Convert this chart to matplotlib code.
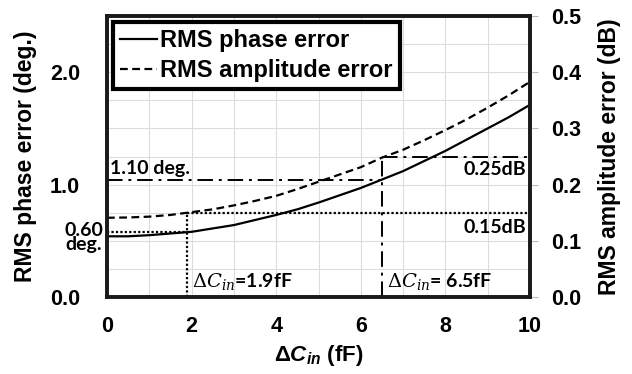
import numpy as np
import matplotlib
matplotlib.use("Agg")
import matplotlib.pyplot as plt
from matplotlib.lines import Line2D

# custom mathtext = bold Arial-like, used for the x label
plt.rcParams['mathtext.fontset'] = 'custom'
plt.rcParams['mathtext.rm'] = 'Liberation Sans:bold'
plt.rcParams['mathtext.it'] = 'Liberation Sans:bold:italic'
plt.rcParams['mathtext.bf'] = 'Liberation Sans:bold'

# data
dc = [0, 0.5, 1, 1.5, 2, 2.5, 3, 3.5, 4, 4.5, 5, 5.5, 6, 6.5, 7, 7.5, 8, 8.5, 9, 9.5, 10]
phase_deg = [0.54, 0.54, 0.55, 0.565, 0.58, 0.61, 0.64, 0.685, 0.73, 0.78, 0.84,
             0.905, 0.97, 1.045, 1.12, 1.21, 1.30, 1.40, 1.50, 1.60, 1.71]
amp_db = [0.141, 0.1415, 0.143, 0.146, 0.151, 0.156, 0.163, 0.171, 0.180, 0.192, 0.205,
          0.218, 0.231, 0.248, 0.262, 0.279, 0.297, 0.316, 0.337, 0.359, 0.383]

# marker points (where the guide lines sit)
dc_marks = [1.9, 6.5]
deg_marks = [0.58, 1.04]
db_marks = [0.15, 0.25]

fig = plt.figure(figsize=(6.32, 3.74), dpi=100)
ax = fig.add_axes([107/632, 77/374, 423/632, 281/374])
ax2 = ax.twinx()

bold = dict(family='Liberation Sans', weight='bold')
note = dict(family='Lato', weight='bold', fontsize=14)

ax.set_xlim(0, 10)
ax.set_ylim(0, 2.5)
ax2.set_ylim(0, 0.5)

# grid
for x in np.arange(1, 10):
    ax.axvline(x, color='#dcdcdc', lw=0.8, zorder=0)
for y in np.arange(0.25, 2.5, 0.25):
    ax.axhline(y, color='#dcdcdc', lw=0.8, zorder=0)

# curves
ax.plot(dc, phase_deg, color='black', lw=1.6)
ax2.plot(dc, amp_db, color='black', lw=1.6, ls=(0, (3.5, 2)))

# guide lines
dot = dict(color='black', lw=1.6, ls=(0, (1, 1)))
dd = dict(color='black', lw=1.4, ls=(0, (8, 3, 1.5, 3)))
ax.plot([0, dc_marks[0]], [deg_marks[0], deg_marks[0]], **dot)
ax2.plot([dc_marks[0], dc_marks[0]], [0, db_marks[0]], **dot)
ax2.plot([dc_marks[0], 10], [db_marks[0], db_marks[0]], **dot)
ax.plot([0, dc_marks[1]], [deg_marks[1], deg_marks[1]], **dd)
ax2.plot([dc_marks[1], dc_marks[1]], [0, db_marks[1]], **dd)
ax2.plot([dc_marks[1], 10], [db_marks[1], db_marks[1]], **dd)

# annotations
ax.text(0.07, 1.07, '1.10 deg.', ha='left', va='bottom', **note)
ax.text(-0.55, 0.53, '0.60\ndeg.', ha='center', va='center', linespacing=0.75,
        clip_on=False, **note)
ax2.text(9.9, 0.226, '0.25dB', ha='right', va='center', **note)
ax2.text(9.9, 0.123, '0.15dB', ha='right', va='center', **note)
ax.text(2.0, 0.134, r'$\Delta C_{in}$=1.9fF', ha='left', va='center',
        math_fontfamily='dejavuserif', **note)
ax.text(6.62, 0.134, r'$\Delta C_{in}$= 6.5fF', ha='left', va='center',
        math_fontfamily='dejavuserif', **note)

# ticks
ax.set_xticks([0, 2, 4, 6, 8, 10])
ax.set_yticks([0.0, 1.0, 2.0])
ax.set_yticklabels(['0.0', '1.0', '2.0'])
ax2.set_yticks([0.0, 0.1, 0.2, 0.3, 0.4, 0.5])
ax2.set_yticklabels(['0.0', '0.1', '0.2', '0.3', '0.4', '0.5'])
ax.tick_params(axis='x', length=0, pad=14)
ax.tick_params(axis='y', length=0, pad=19.5)
ax2.tick_params(axis='y', length=6, color='#bbbbbb', pad=9)
for lab in ax.get_xticklabels() + ax.get_yticklabels() + ax2.get_yticklabels():
    lab.set_fontproperties('Liberation Sans')
    lab.set_fontweight('bold')
    lab.set_fontsize(15.5)

ax.set_xlabel(r'$\Delta C_{in}$ (fF)', fontsize=16, **bold)
ax.set_ylabel('RMS phase error (deg.)', fontsize=16.5, **bold)
ax2.set_ylabel('RMS amplitude error (dB)', fontsize=16.5, rotation=90, **bold)
ax.xaxis.set_label_coords(0.5, -0.164)
ax.yaxis.set_label_coords(-0.165, 0.5)
ax2.yaxis.set_label_coords(1.16, 0.5)

for a in (ax, ax2):
    for s in a.spines.values():
        s.set_linewidth(2.6)
        s.set_color('#1a1a1a')

handles = [Line2D([], [], color='black', lw=1.6),
           Line2D([], [], color='black', lw=1.6, ls=(0, (3.5, 2)))]
leg = ax2.legend(handles, ['RMS phase error', 'RMS amplitude error'],
                 loc='upper left', bbox_to_anchor=(0.0, 1.0), borderaxespad=0.25,
                 prop=dict(family='Liberation Sans', weight='bold', size=17),
                 handlelength=1.55, handletextpad=0.15, labelspacing=0.3,
                 borderpad=0.3, fancybox=False, framealpha=1)
leg.get_frame().set_edgecolor('black')
leg.get_frame().set_linewidth(3)

fig.savefig('out.png', dpi=100)
